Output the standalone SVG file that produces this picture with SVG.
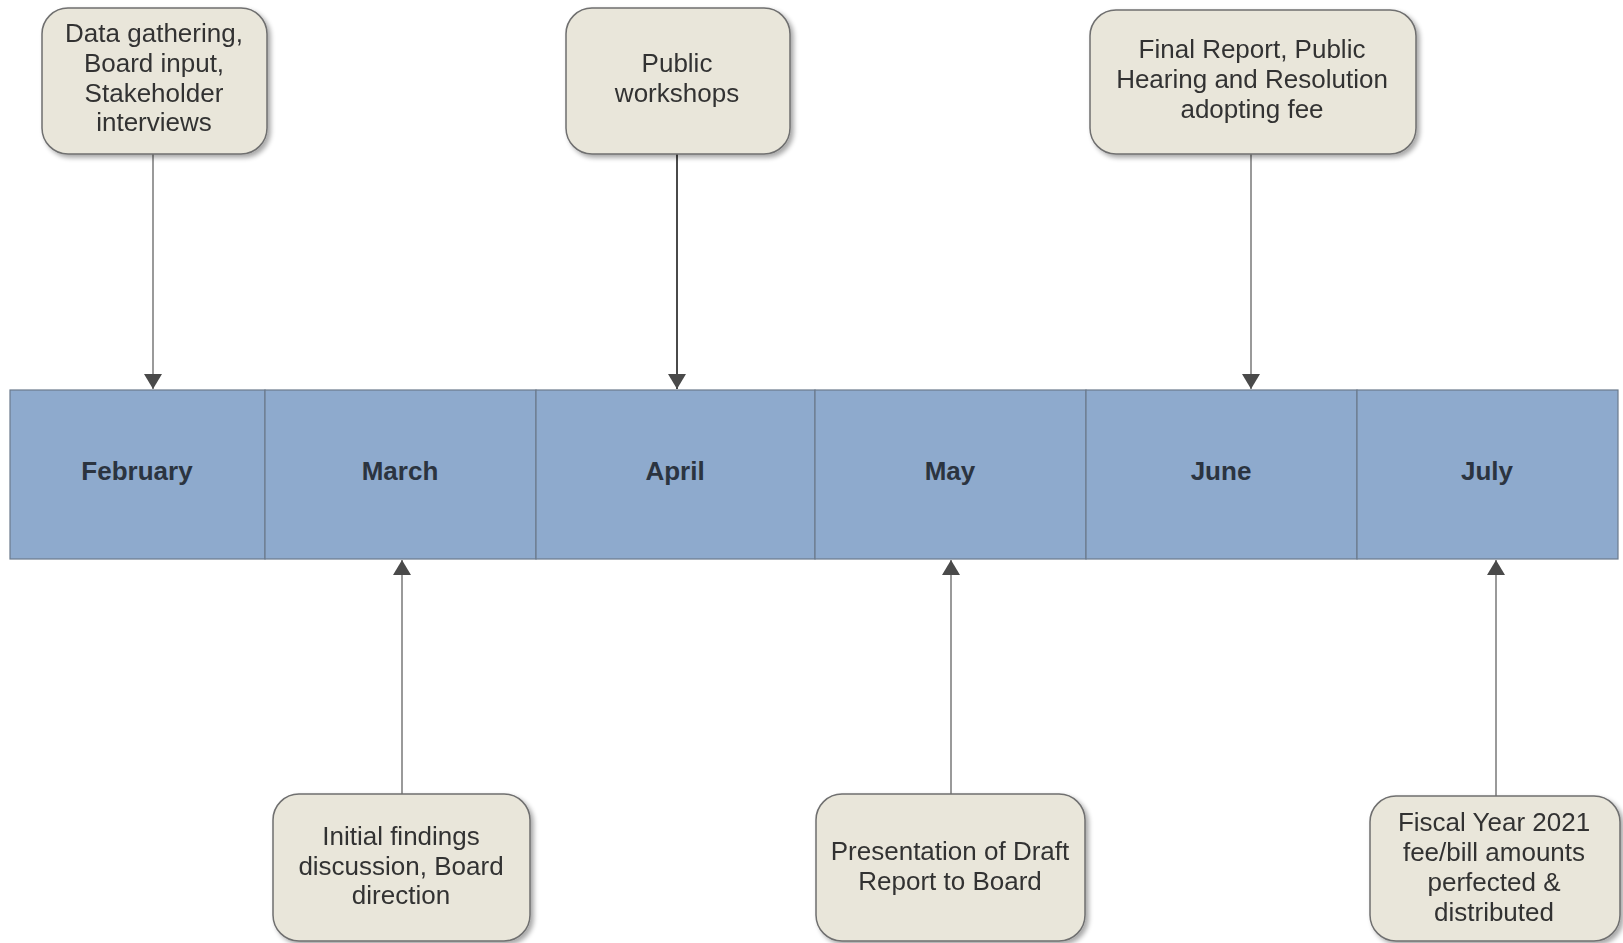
<svg xmlns="http://www.w3.org/2000/svg" width="1623" height="943" viewBox="0 0 1623 943">
<style>
.box{fill:#e9e6da;stroke:#6f6f6f;stroke-width:1.5}
.bt{font-family:"Liberation Sans",Arial,sans-serif;font-size:26px;fill:#333;text-anchor:middle}
.seg{fill:#8eaacd;stroke:#6b7a8c;stroke-width:1.2}
.mt{font-family:"Liberation Sans",Arial,sans-serif;font-size:26px;font-weight:bold;fill:#2b3440;text-anchor:middle}
.c{stroke:#9a9a9a;stroke-width:2;fill:none}
.cd{stroke:#4a4a4a;stroke-width:2;fill:none}
</style>
<defs>
<marker id="ah" viewBox="0 0 10 12" refX="10" refY="6" markerUnits="userSpaceOnUse" markerWidth="22" markerHeight="18" orient="auto">
<path d="M0,0 L10,6 L0,12 z" fill="#4a4a4a"/>
</marker>
<filter id="sh" x="-10%" y="-10%" width="125%" height="125%">
<feGaussianBlur in="SourceAlpha" stdDeviation="2.5"/>
<feOffset dx="3" dy="3"/>
<feComponentTransfer><feFuncA type="linear" slope="0.35"/></feComponentTransfer>
<feMerge><feMergeNode/><feMergeNode in="SourceGraphic"/></feMerge>
</filter>
</defs>
<rect width="1623" height="943" fill="#ffffff"/>

<g id="timeline">
<g id="feb"><rect class="seg" x="10" y="390" width="255" height="169"/><text class="mt" x="137" y="480">February</text></g>
<g id="mar"><rect class="seg" x="265" y="390" width="271" height="169"/><text class="mt" x="400" y="480">March</text></g>
<g id="apr"><rect class="seg" x="536" y="390" width="279" height="169"/><text class="mt" x="675" y="480">April</text></g>
<g id="may"><rect class="seg" x="815" y="390" width="271" height="169"/><text class="mt" x="950" y="480">May</text></g>
<g id="jun"><rect class="seg" x="1086" y="390" width="271" height="169"/><text class="mt" x="1221" y="480">June</text></g>
<g id="jul"><rect class="seg" x="1357" y="390" width="261" height="169"/><text class="mt" x="1487" y="480">July</text></g>
</g>

<g id="connectors">
<line class="c" x1="153" y1="154" x2="153" y2="389" marker-end="url(#ah)"/>
<line class="cd" x1="677" y1="154" x2="677" y2="389" marker-end="url(#ah)"/>
<line class="c" x1="1251" y1="154" x2="1251" y2="389" marker-end="url(#ah)"/>
<line class="c" x1="402" y1="794" x2="402" y2="560" marker-end="url(#ah)"/>
<line class="c" x1="951" y1="794" x2="951" y2="560" marker-end="url(#ah)"/>
<line class="c" x1="1496" y1="796" x2="1496" y2="560" marker-end="url(#ah)"/>
</g>

<g id="n1" filter="url(#sh)"><rect class="box" x="42" y="8" width="225" height="146" rx="26"/>
<text class="bt"><tspan x="154" y="42">Data gathering,</tspan><tspan x="154" y="72">Board input,</tspan><tspan x="154" y="102">Stakeholder</tspan><tspan x="154" y="131">interviews</tspan></text></g>

<g id="n2" filter="url(#sh)"><rect class="box" x="566" y="8" width="224" height="146" rx="26"/>
<text class="bt"><tspan x="677" y="72">Public</tspan><tspan x="677" y="102">workshops</tspan></text></g>

<g id="n3" filter="url(#sh)"><rect class="box" x="1090" y="10" width="326" height="144" rx="26"/>
<text class="bt"><tspan x="1252" y="58">Final Report, Public</tspan><tspan x="1252" y="88">Hearing and Resolution</tspan><tspan x="1252" y="118">adopting fee</tspan></text></g>

<g id="n4" filter="url(#sh)"><rect class="box" x="273" y="794" width="257" height="147" rx="26"/>
<text class="bt"><tspan x="401" y="845">Initial findings</tspan><tspan x="401" y="875">discussion, Board</tspan><tspan x="401" y="904">direction</tspan></text></g>

<g id="n5" filter="url(#sh)"><rect class="box" x="816" y="794" width="269" height="147" rx="26"/>
<text class="bt"><tspan x="950" y="860">Presentation of Draft</tspan><tspan x="950" y="890">Report to Board</tspan></text></g>

<g id="n6" filter="url(#sh)"><rect class="box" x="1370" y="796" width="250" height="145" rx="26"/>
<text class="bt"><tspan x="1494" y="831">Fiscal Year 2021</tspan><tspan x="1494" y="861">fee/bill amounts</tspan><tspan x="1494" y="891">perfected &amp;</tspan><tspan x="1494" y="921">distributed</tspan></text></g>
</svg>
